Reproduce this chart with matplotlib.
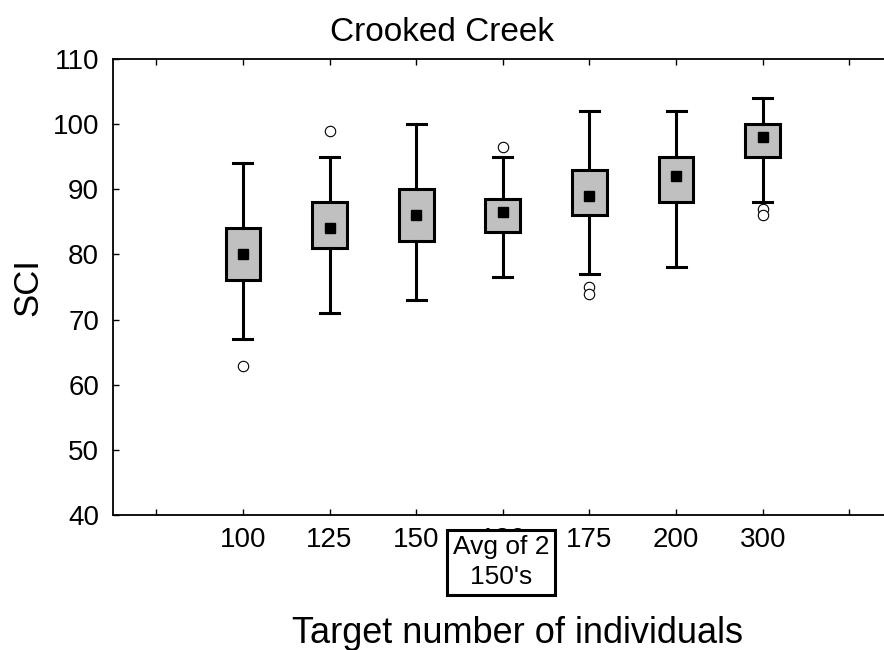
import matplotlib

matplotlib.use("Agg")
import matplotlib.pyplot as plt

plt.rcParams["font.family"] = ["Liberation Sans", "DejaVu Sans"]

# tick labels along x (first and last slots are empty)
tick_labels = ["", "100", "125", "150", "180", "175", "200", "300", ""]

# box positions (tick slots) and summary values
positions = [1, 2, 3, 4, 5, 6, 7]
whisker_hi = [94, 95, 100, 95, 102, 102, 104]
box_hi = [84, 88, 90, 88.5, 93, 95, 100]
medians = [80, 84, 86, 86.5, 89, 92, 98]
box_lo = [76, 81, 82, 83.5, 86, 88, 95]
whisker_lo = [67, 71, 73, 76.5, 77, 78, 88]
outliers = [[62.8], [99], [], [96.5], [75, 74], [], [87, 86]]

stats = []
for i in range(len(positions)):
    stats.append(
        {
            "med": medians[i],
            "q1": box_lo[i],
            "q3": box_hi[i],
            "whislo": whisker_lo[i],
            "whishi": whisker_hi[i],
            "fliers": outliers[i],
        }
    )

fig = plt.figure(figsize=(8.84, 6.5), dpi=100)
ax = fig.add_axes([0.1278, 0.2077, 0.882, 0.7015])

ax.bxp(
    stats,
    positions=positions,
    widths=0.4,
    patch_artist=True,
    boxprops=dict(facecolor="#c0c0c0", edgecolor="black", linewidth=2.2),
    whiskerprops=dict(color="black", linewidth=2.2),
    capprops=dict(color="black", linewidth=2.2),
    capwidths=0.22,
    medianprops=dict(linestyle="none"),
    flierprops=dict(
        marker="o", markersize=7.5, markerfacecolor="white",
        markeredgecolor="black", markeredgewidth=0.8,
    ),
)
ax.plot(positions, medians, "s", color="black", markersize=7.5, zorder=5)

ax.set_xlim(-0.5, 8.5)
ax.set_ylim(40, 110)
ax.set_xticks(range(len(tick_labels)))
ax.set_xticklabels(tick_labels, fontsize=20)
ax.set_yticks(range(40, 111, 10))
ax.tick_params(axis="y", labelsize=20, direction="in", length=4, width=1, pad=10)
ax.tick_params(axis="x", direction="in", length=4, width=1, pad=9, top=True)
for side in ["left", "bottom", "top"]:
    ax.spines[side].set_linewidth(1.3)
ax.spines["right"].set_visible(False)

ax.set_ylabel("SCI", fontsize=25, labelpad=6)
fig.text(0.5, 0.95, "Crooked Creek", ha="center", va="center", fontsize=24)
fig.text(0.585, 0.025, "Target number of individuals", ha="center",
         va="center", fontsize=26)

# note box drawn over the fifth tick label, as in the original
ax.annotate(
    "Avg of 2\n150's", xy=(4, 0), xycoords=("data", "axes fraction"),
    xytext=(-1, -34), textcoords="offset points", ha="center", va="center",
    fontsize=19, linespacing=1.3,
    bbox=dict(boxstyle="square,pad=0.22", facecolor="white",
              edgecolor="black", linewidth=2.2),
    annotation_clip=False,
)

fig.savefig("out.png", dpi=100)
